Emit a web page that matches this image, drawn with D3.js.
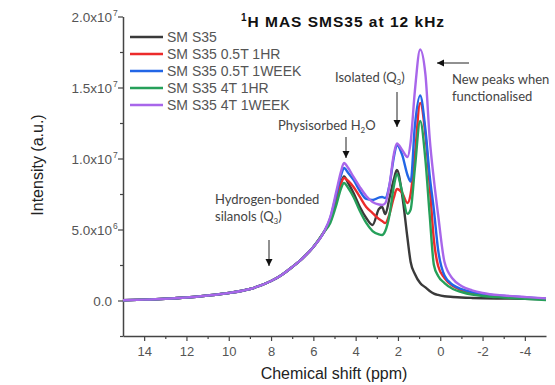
<!DOCTYPE html>
<html><head><meta charset="utf-8">
<script src="https://cdn.jsdelivr.net/npm/d3@7"></script>
<style>body{margin:0;background:#fff}</style>
</head><body><svg id="c" width="555" height="385"></svg>
<script>
// chemical shift grid (ppm)
const ppm = [15,14,13,12,11,10,9,8,7.5,7,6.5,6,5.5,5.2,4.9,4.7,4.55,4.35,4.1,3.8,3.5,3.2,2.9,2.75,2.6,2.4,2.2,2.05,1.8,1.55,1.4,1.2,0.95,0.7,0.5,0.3,0.1,-0.2,-0.6,-1,-1.5,-2,-3,-4,-5];
// intensities in units of 10^6
const sms35 =        [0.02,0.06,0.12,0.21,0.35,0.53,0.81,1.37,1.80,2.36,2.99,3.77,4.82,5.67,7.22,8.27,8.73,8.27,7.57,6.58,5.81,5.32,6.44,6.58,6.09,7.22,8.49,9.19,7.43,4.40,2.71,1.87,1.23,0.92,0.67,0.49,0.39,0.30,0.25,0.21,0.18,0.16,0.14,0.12,0.09];
const sms35_05T_1hr = [0.02,0.06,0.12,0.21,0.35,0.53,0.81,1.37,1.80,2.36,2.99,3.77,4.82,5.60,7.08,8.20,8.63,8.42,7.99,7.29,6.58,6.16,5.74,5.60,5.45,6.09,7.22,7.85,7.57,6.87,7.50,10.2,13.91,11.65,8.13,4.26,2.43,1.58,1.02,0.74,0.53,0.39,0.26,0.19,0.11];
const sms35_05T_1wk = [0.02,0.06,0.12,0.21,0.35,0.53,0.81,1.37,1.80,2.36,2.99,3.77,4.82,5.81,7.57,8.77,9.33,8.98,8.49,7.71,7.15,7.08,7.25,7.29,7.22,8.13,10.04,10.95,10.25,8.84,8.37,12.3,14.44,12.01,8.80,6.37,3.56,1.76,1.09,0.81,0.60,0.46,0.32,0.21,0.12];
const sms35_4T_1hr =  [0.02,0.06,0.12,0.21,0.35,0.53,0.81,1.37,1.80,2.36,2.99,3.77,4.82,5.46,6.80,7.85,8.27,7.92,7.29,6.30,5.46,4.89,4.65,4.61,4.89,6.02,7.99,8.91,7.64,6.10,6.40,9.30,12.64,9.89,6.02,2.50,1.73,1.23,0.81,0.60,0.42,0.32,0.21,0.12,0.04];
const sms35_4T_1wk =  [0.02,0.06,0.12,0.21,0.35,0.53,0.81,1.37,1.80,2.36,2.99,3.77,4.82,5.88,7.78,9.05,9.68,9.33,8.70,7.99,7.36,6.94,6.76,6.73,6.85,8.13,10.25,11.06,10.60,10.11,11.16,14.75,17.68,15.90,11.44,8.49,6.02,2.71,1.51,1.02,0.72,0.53,0.35,0.25,0.15];

const seriesNames = ["SM S35","SM S35 0.5T 1HR","SM S35 0.5T 1WEEK","SM S35 4T 1HR","SM S35 4T 1WEEK"];
const seriesValues = [sms35, sms35_05T_1hr, sms35_05T_1wk, sms35_4T_1hr, sms35_4T_1wk];
const seriesColors = ["#3a3a3a","#ec2b2b","#2266e6","#26a05a","#a866ea"];

const yTicks = [0, 5, 10, 15, 20];
const yTickBase = ["0.0","5.0x10","1.0x10","1.5x10","2.0x10"];
const yTickExp = ["","6","7","7","7"];
const yMinor = [-2.5, 2.5, 7.5, 12.5, 17.5];
const xTicks = [14,12,10,8,6,4,2,0,-2,-4];
const xMinor = [13,11,9,7,5,3,1,-1,-3];

const svg = d3.select("#c");
const x = d3.scaleLinear().domain([15,-5]).range([123,546]);
const y = d3.scaleLinear().domain([-2.5,20]).range([336,16.5]);
const axisColor = "#444";

// axes
const gx = svg.append("g").attr("transform","translate(0,336)")
  .call(d3.axisBottom(x).tickValues(xTicks).tickSize(5).tickSizeOuter(0).tickFormat(d=>d<0?"-"+Math.abs(d):d));
gx.select(".domain").attr("stroke",axisColor).attr("stroke-width",1.5);
gx.selectAll(".tick line").attr("stroke",axisColor).attr("stroke-width",1.2);
gx.selectAll(".tick text").attr("fill","#555").attr("font-family","Liberation Sans, Arial, sans-serif").attr("font-size",13).attr("dy","0.95em");
const gxm = svg.append("g").attr("transform","translate(0,336)")
  .call(d3.axisBottom(x).tickValues(xMinor).tickSize(3).tickSizeOuter(0).tickFormat(""));
gxm.select(".domain").remove();
gxm.selectAll(".tick line").attr("stroke",axisColor).attr("stroke-width",1.2);

const gy = svg.append("g").attr("transform","translate(123,0)")
  .call(d3.axisLeft(y).tickValues(yTicks).tickSize(5).tickSizeOuter(0).tickFormat(""));
gy.select(".domain").attr("stroke",axisColor).attr("stroke-width",1.5);
gy.selectAll(".tick line").attr("stroke",axisColor).attr("stroke-width",1.2);
const gym = svg.append("g").attr("transform","translate(123,0)")
  .call(d3.axisLeft(y).tickValues(yMinor).tickSize(3).tickSizeOuter(0).tickFormat(""));
gym.select(".domain").remove();
gym.selectAll(".tick line").attr("stroke",axisColor).attr("stroke-width",1.2);

yTicks.forEach((v,i)=>{
  svg.append("text").attr("x",112).attr("y", y(v)+5)
    .attr("text-anchor","end").attr("fill","#555")
    .attr("font-family","Liberation Sans, Arial, sans-serif").attr("font-size",13.5)
    .text(yTickBase[i]);
  if (yTickExp[i]) {
    svg.append("text").attr("x",113).attr("y",y(v)-1).attr("fill","#555")
      .attr("font-family","Liberation Sans, Arial, sans-serif").attr("font-size",8.5).text(yTickExp[i]);
  }
});

// axis titles
svg.append("text").attr("x",334).attr("y",379).attr("text-anchor","middle")
  .attr("font-family","Liberation Sans, Arial, sans-serif").attr("font-size",16).attr("fill","#222")
  .text("Chemical shift (ppm)");
svg.append("text").attr("transform","translate(43,165) rotate(-90)").attr("text-anchor","middle")
  .attr("font-family","Liberation Sans, Arial, sans-serif").attr("font-size",16).attr("fill","#222")
  .text("Intensity (a.u.)");

// title
const title = svg.append("text").attr("x",343).attr("y",27).attr("text-anchor","middle")
  .attr("font-family","Liberation Sans, Arial, sans-serif").attr("font-size",15.5).attr("font-weight","bold")
  .attr("fill","#111").attr("letter-spacing","1");
title.append("tspan").attr("font-size",10).attr("dy",-6).text("1");
title.append("tspan").attr("dy",6).text("H MAS SMS35 at 12 kHz");

// lines
const line = d3.line().x((d,i)=>x(ppm[i])).y(d=>y(d)).curve(d3.curveMonotoneX);
seriesValues.forEach((vals,k)=>{
  svg.append("path").attr("d", line(vals)).attr("fill","none")
    .attr("stroke", seriesColors[k]).attr("stroke-width",2.4).attr("stroke-linejoin","round");
});

// legend
seriesNames.forEach((n,k)=>{
  const yy = 37 + k*17;
  svg.append("line").attr("x1",130).attr("x2",163).attr("y1",yy).attr("y2",yy)
    .attr("stroke",seriesColors[k]).attr("stroke-width",2.4);
  svg.append("text").attr("x",167).attr("y",yy+5).attr("fill","#555")
    .attr("font-family","Liberation Sans, Arial, sans-serif").attr("font-size",14).text(n);
});

// annotations
const af = "Lato, 'Open Sans', sans-serif";
function ann(tx, ty, lines){
  lines.forEach((l,i)=>{
    const t = svg.append("text").attr("x",tx).attr("y",ty+i*17).attr("fill","#444")
      .attr("font-family",af).attr("font-size",13);
    l.forEach(p=>{
      if (p.sub) t.append("tspan").attr("font-size",8).attr("dy",3).text(p.t);
      else t.append("tspan").attr("dy", p.after ? -3 : 0).text(p.t);
    });
  });
}
function arrow(x1,y1,x2,y2){
  svg.append("line").attr("x1",x1).attr("y1",y1).attr("x2",x2).attr("y2",y2)
    .attr("stroke","#222").attr("stroke-width",1);
  const a = Math.atan2(y2-y1,x2-x1), L=7, W=3.5;
  const p = [[x2,y2],[x2-L*Math.cos(a)+W*Math.sin(a), y2-L*Math.sin(a)-W*Math.cos(a)],
             [x2-L*Math.cos(a)-W*Math.sin(a), y2-L*Math.sin(a)+W*Math.cos(a)]];
  svg.append("polygon").attr("points",p.map(q=>q.join(",")).join(" ")).attr("fill","#111");
}
ann(278,130,[[{t:"Physisorbed H"},{t:"2",sub:true},{t:"O",after:true}]]);
arrow(346,137,346,158);
ann(335,82,[[{t:"Isolated (Q"},{t:"3",sub:true},{t:")",after:true}]]);
arrow(397,92,397,127);
ann(452,84,[[{t:"New peaks when"}],[{t:"functionalised"}]]);
arrow(469,63,437,63);
ann(215,204,[[{t:"Hydrogen-bonded"}],[{t:"silanols (Q"},{t:"3",sub:true},{t:")",after:true}]]);
arrow(269,240,269,266);
</script></body></html>
